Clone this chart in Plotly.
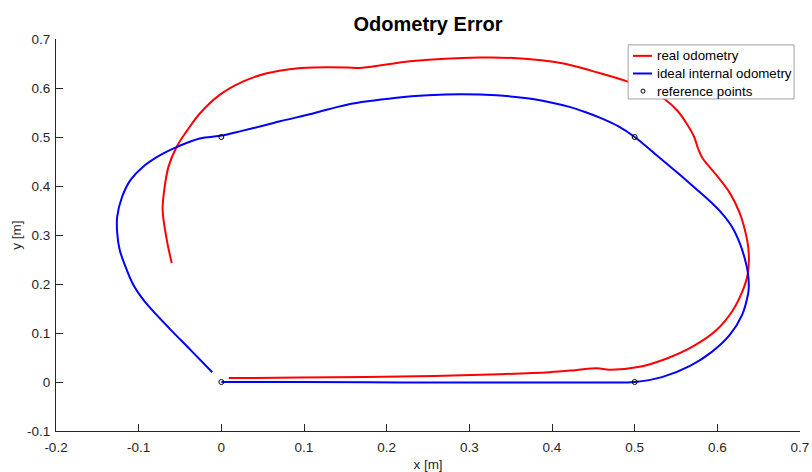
import plotly.graph_objects as go

# ideal internal odometry (blue)
ideal_x = [0.000, 0.095, 0.216, 0.337, 0.458, 0.500, 0.533, 0.567, 0.593, 0.615,
           0.630, 0.637, 0.638, 0.637, 0.633, 0.627, 0.618, 0.605, 0.591, 0.573,
           0.549, 0.525, 0.500, 0.480, 0.460, 0.440, 0.420, 0.400, 0.370, 0.333, 0.290,
           0.250, 0.212, 0.152, 0.111, 0.071, 0.055, 0.026, 0.001, -0.026, -0.052,
           -0.074, -0.095, -0.110, -0.120, -0.126, -0.126, -0.123, -0.117, -0.107,
           -0.094, -0.080, -0.062, -0.037, -0.011]
ideal_y = [0.000, 0.000, -0.001, -0.001, -0.001, 0.000, 0.010, 0.033, 0.061, 0.096,
           0.137, 0.178, 0.192, 0.222, 0.253, 0.284, 0.316, 0.345, 0.369, 0.396,
           0.431, 0.465, 0.500, 0.522, 0.538, 0.551, 0.562, 0.570, 0.579, 0.585, 0.587,
           0.585, 0.580, 0.566, 0.548, 0.532, 0.525, 0.513, 0.503, 0.497, 0.481,
           0.463, 0.439, 0.412, 0.378, 0.337, 0.305, 0.270, 0.240, 0.200,
           0.167, 0.140, 0.108, 0.065, 0.020]

# real odometry (red)
real_x = [0.009, 0.095, 0.216, 0.337, 0.397, 0.428, 0.454, 0.470, 0.506, 0.539,
          0.570, 0.599, 0.619, 0.631, 0.637, 0.638, 0.636, 0.627, 0.615, 0.599,
          0.582, 0.577, 0.572, 0.563, 0.552, 0.538, 0.515, 0.490, 0.450,
          0.414, 0.353, 0.313, 0.232, 0.168, 0.152, 0.111, 0.085, 0.055,
          0.026, -0.002, -0.026, -0.041, -0.054, -0.064, -0.069, -0.071, -0.066, -0.060]
real_y = [0.008, 0.009, 0.011, 0.016, 0.020, 0.024, 0.028, 0.025, 0.031, 0.048,
          0.072, 0.106, 0.147, 0.188, 0.222, 0.263, 0.290, 0.345, 0.386, 0.422,
          0.457, 0.475, 0.500, 0.527, 0.553, 0.575, 0.597, 0.614, 0.634,
          0.650, 0.661, 0.662, 0.655, 0.641, 0.642, 0.642, 0.639, 0.630,
          0.613, 0.586, 0.548, 0.514, 0.480, 0.439, 0.392, 0.351, 0.290, 0.243]

# reference points
ref_x = [0.0, 0.5, 0.5, 0.0]
ref_y = [0.0, 0.0, 0.5, 0.5]

series_names = ["real odometry", "ideal internal odometry", "reference points"]

x_ticks = [-0.2, -0.1, 0.0, 0.1, 0.2, 0.3, 0.4, 0.5, 0.6, 0.7]
x_tick_labels = ["-0.2", "-0.1", "0", "0.1", "0.2", "0.3", "0.4", "0.5", "0.6", "0.7"]
y_ticks = [-0.1, 0.0, 0.1, 0.2, 0.3, 0.4, 0.5, 0.6, 0.7]
y_tick_labels = ["-0.1", "0", "0.1", "0.2", "0.3", "0.4", "0.5", "0.6", "0.7"]

FONT = "Liberation Sans, Arial, Helvetica, sans-serif"
AX = "#262626"
RED = "#ff0000"
BLUE = "#0000ff"

fig = go.Figure()
fig.add_trace(go.Scatter(x=real_x, y=real_y, mode="lines", name=series_names[0],
                         line=dict(color=RED, width=2, shape="spline", smoothing=1.0)))
fig.add_trace(go.Scatter(x=ideal_x, y=ideal_y, mode="lines", name=series_names[1],
                         line=dict(color=BLUE, width=2, shape="spline", smoothing=1.0)))
fig.add_trace(go.Scatter(x=ref_x, y=ref_y, mode="markers", name=series_names[2],
                         marker=dict(symbol="circle-open", size=5, color="#000000",
                                     line=dict(width=1, color="#000000"))))

# legend box drawn in paper coordinates (MATLAB style compact legend)
lx0, lx1, ly0, ly1 = 0.769, 0.992, 0.847, 0.985
row_y = [0.957, 0.912, 0.867]
shapes = [dict(type="rect", xref="paper", yref="paper", x0=lx0, x1=lx1, y0=ly0, y1=ly1,
               line=dict(color="#a0a0a0", width=1), fillcolor="white", layer="above")]
for yy, col in zip(row_y[:2], [RED, BLUE]):
    shapes.append(dict(type="line", xref="paper", yref="paper", x0=0.7755, x1=0.801,
                       y0=yy, y1=yy, line=dict(color=col, width=2), layer="above"))
shapes.append(dict(type="circle", xref="paper", yref="paper",
                   x0=0.789 - 0.0027, x1=0.789 + 0.0027,
                   y0=row_y[2] - 0.0051, y1=row_y[2] + 0.0051,
                   line=dict(color="#000000", width=1), layer="above"))
annotations = []
for yy, name in zip(row_y, series_names):
    annotations.append(dict(text=name, xref="paper", yref="paper", x=0.8045, y=yy,
                            xanchor="left", yanchor="middle", showarrow=False,
                            font=dict(family=FONT, size=13.3, color="#000000")))

fig.update_layout(
    width=812, height=472,
    margin=dict(l=56, r=12, t=39, b=41),
    paper_bgcolor="white", plot_bgcolor="white",
    font=dict(family=FONT, size=13.5, color=AX),
    title=dict(text="<b>Odometry Error</b>", x=0.5, xref="paper", xanchor="center",
               y=1, yref="container", yanchor="top", pad=dict(t=17),
               font=dict(family=FONT, size=20, color="#000000")),
    showlegend=False,
    shapes=shapes,
    annotations=annotations,
)
fig.update_xaxes(range=[-0.2, 0.7], tickvals=x_ticks, ticktext=x_tick_labels,
                 showgrid=False, zeroline=False, showline=True, linecolor=AX, linewidth=1,
                 ticks="inside", ticklen=7, tickcolor=AX, tickwidth=1,
                 ticklabelstandoff=4, automargin=False,
                 title=dict(text="x [m]", standoff=5, font=dict(size=13.5, color=AX)))
fig.update_yaxes(range=[-0.1, 0.7], tickvals=y_ticks, ticktext=y_tick_labels,
                 showgrid=False, zeroline=False, showline=True, linecolor=AX, linewidth=1,
                 ticks="inside", ticklen=7, tickcolor=AX, tickwidth=1,
                 ticklabelstandoff=2, automargin=False,
                 title=dict(text="y [m]", standoff=2, font=dict(size=13.5, color=AX)))

fig.write_html("out.html")
